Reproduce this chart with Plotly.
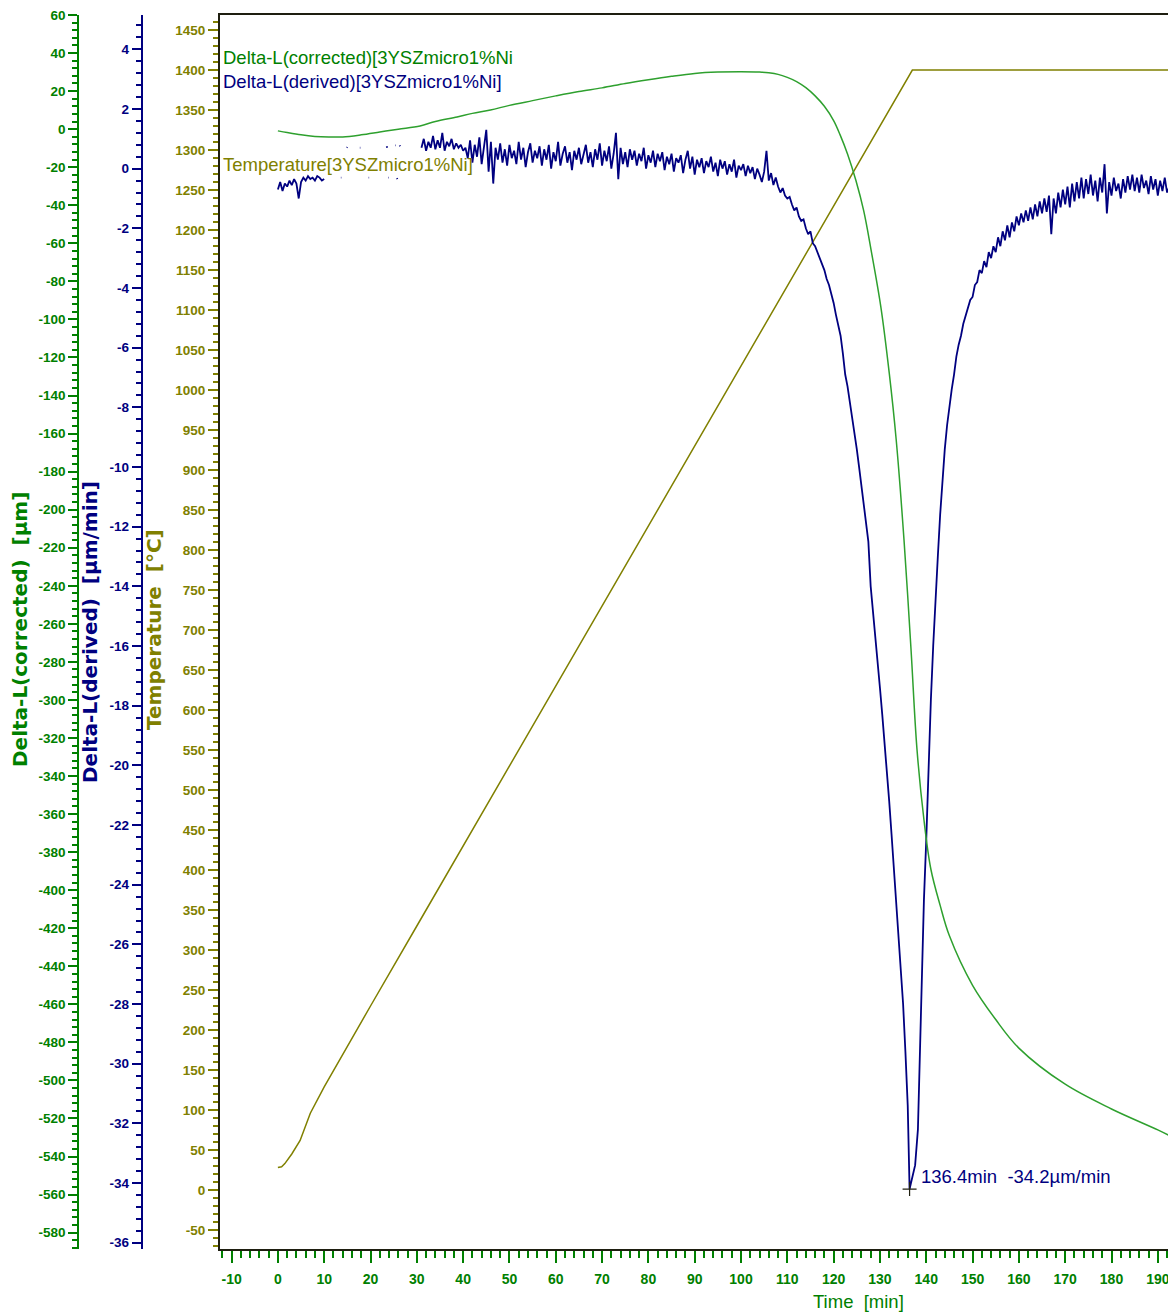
import plotly.graph_objects as go

W, H = 1168, 1316

# ---------------- data ----------------
temp_time = [0, 0.8, 1.5, 3, 4.8, 6, 7, 10, 15, 20, 30, 40, 50, 60, 70, 80, 90, 100, 110, 120, 130, 137,
             140, 150, 160, 170, 180, 190, 192.5]
temp_value = [28, 29, 33, 45, 62, 80, 96, 129, 180, 230, 330, 430, 530, 630, 730, 830, 930, 1030, 1130, 1230,
              1330, 1400, 1400, 1400, 1400, 1400, 1400, 1400, 1400]

corr_time = [0, 2, 5, 8, 11, 14, 18, 22, 26, 30.7, 34, 38.7, 42, 45.9, 50, 55, 60, 65, 70, 75, 80, 85, 90, 95,
             100, 104, 106, 108, 110, 112, 114, 116, 118, 120, 121.4, 123, 124.8, 126.5, 128.1, 130.2, 132,
             133.5, 135.2, 136.7, 138, 139.5, 141, 143, 145, 150, 155, 160, 170, 180, 190, 192.5]
corr_value = [-0.9, -1.8, -3.0, -3.8, -4.1, -4.1, -3.0, -1.5, 0.0, 1.7, 4.0, 6.4, 8.3, 10.1, 12.5, 15.0, 17.5,
              19.8, 21.7, 24.0, 26.0, 27.8, 29.3, 30.0, 30.2, 30.0, 29.6, 28.8, 27.2, 25.0, 21.8, 17.5, 12.0,
              4.5, -3.0, -13.0, -26.9, -43.0, -63.7, -93.5, -128.0, -163.0, -216.0, -273.0, -326.0, -363.0,
              -389.0, -408.0, -424.0, -450.0, -468.0, -483.0, -502.0, -515.0, -526.0, -529.0]

deriv_time = [
    0, 0.5, 1, 1.5, 2, 2.5, 3, 3.5, 4, 4.5, 5, 5.5, 6, 6.5, 7, 7.5, 8, 8.5, 9, 9.5, 10, None,
    13.6, 13.7, None, 14.9, 15.0, None, 17.7, 17.8, None, 19.6, 19.7, None, 23.5, 23.6, None, 23.8, 23.9, None,
    25.3, 25.4, None, 25.7, 25.8, None, 26.3, 26.4, None,
    31, 31.5, 32, 32.5, 33, 33.5, 34, 34.5, 35, 35.5, 36, 36.5, 37, 37.5, 38, 38.5, 39, 39.5, 40, 40.5,
    41, 41.5, 42, 42.5, 43, 43.5, 44, 44.5, 45, 45.5, 46, 46.5, 47, 47.5, 48, 48.5, 49, 49.5,
    50, 50.5, 51, 51.5, 52, 52.5, 53, 53.5, 54, 54.5, 55, 55.5, 56, 56.5, 57, 57.5, 58, 58.5, 59, 59.5,
    60, 60.5, 61, 61.5, 62, 62.5, 63, 63.5, 64, 64.5, 65, 65.5, 66, 66.5, 67, 67.5, 68, 68.5, 69, 69.5,
    70, 70.5, 71, 71.5, 72, 72.5, 73, 73.5, 74, 74.5, 75, 75.5, 76, 76.5, 77, 77.5, 78, 78.5, 79, 79.5,
    80, 80.5, 81, 81.5, 82, 82.5, 83, 83.5, 84, 84.5, 85, 85.5, 86, 86.5, 87, 87.5, 88, 88.5, 89, 89.5,
    90, 90.5, 91, 91.5, 92, 92.5, 93, 93.5, 94, 94.5, 95, 95.5, 96, 96.5, 97, 97.5, 98, 98.5, 99, 99.5,
    100, 100.5, 101, 101.5, 102, 102.5, 103, 103.5, 104, 104.5, 105, 105.5, 106, 106.5, 107, 107.5, 108,
    108.5, 109, 109.5, 110, 110.5, 111, 111.5, 112, 112.5, 113, 113.5, 114, 114.5, 115, 115.5, 116, 116.5,
    117, 117.5, 118, 118.5, 119, 119.5, 120, 120.5, 121, 121.5, 122, 122.5, 123, 123.5, 124, 124.5, 125,
    125.5, 126, 126.5, 127, 127.5, 128, 128.5, 129, 129.5, 130, 130.5, 131, 131.5, 132, 132.5, 133, 133.5,
    134, 134.5, 135, 135.5, 136, 136.4, 137, 137.6, 138.2, 138.6, 139, 139.5, 140, 140.5, 141, 141.5, 142,
    142.5, 143, 143.5, 144, 144.5, 145, 145.5, 146, 146.5, 147, 147.5, 148, 148.5, 149, 149.5, 150, 150.5,
    151, 151.5, 152, 152.5, 153, 153.5, 154, 154.5, 155, 155.5, 156, 156.5, 157, 157.5, 158, 158.5, 159,
    159.5, 160, 160.5, 161, 161.5, 162, 162.5, 163, 163.5, 164, 164.5, 165, 165.5, 166, 166.5, 167, 167.5,
    168, 168.5, 169, 169.5, 170, 170.5, 171, 171.5, 172, 172.5, 173, 173.5, 174, 174.5, 175, 175.5, 176,
    176.5, 177, 177.5, 178, 178.5, 179, 179.5, 180, 180.5, 181, 181.5, 182, 182.5, 183, 183.5, 184, 184.5,
    185, 185.5, 186, 186.5, 187, 187.5, 188, 188.5, 189, 189.5, 190, 190.5, 191, 191.5, 192, 192.5]
deriv_value = [
    -0.7, -0.45, -0.75, -0.5, -0.6, -0.4, -0.55, -0.35, -0.5, -1.0, -0.45, -0.3, -0.4, -0.25, -0.35, -0.3,
    -0.4, -0.25, -0.3, -0.4, -0.35, None,
    -0.3, -0.3, None, 0.7, 0.72, None, 0.7, 0.7, None, -0.3, -0.3, None, 0.75, 0.7, None, -0.3, -0.3, None,
    0.78, 0.78, None, -0.32, -0.35, None, 0.78, 0.75, None,
    0.7, 1.0, 0.6, 0.9, 0.7, 1.1, 0.65, 0.95, 0.7, 1.2, 0.6, 0.9, 0.75, 1.0, 0.65, 0.85, 0.7, 0.8, 0.6, 0.7,
    0.35, 0.95, 0.2, 0.8, 0.4, 1.05, 0.15, 0.75, 1.3, -0.1, 0.9, -0.5, 0.7, 0.3, 0.85, 0.2, 0.65, 0.1,
    0.8, 0.35, 0.6, 0.15, 0.9, 0.3, 0.7, 0.05, 0.55, 0.85, 0.2, 0.6, 0.35, 0.75, 0.1, 0.65, 0.3, 0.8, 0.0, 0.55,
    0.25, 0.9, 0.1, 0.5, 0.75, 0.2, 0.55, -0.05, 0.6, 0.3, 0.7, 0.15, 0.45, 0.8, 0.2, 0.55, 0.05, 0.65, 0.3, 0.85,
    0.1, 0.6, 0.25, 0.75, 0.0, 0.5, 1.2, -0.35, 0.7, 0.15, 0.55, 0.05, 0.65, 0.3, 0.6, 0.1, 0.5, 0.25, 0.7, 0.0,
    0.45, 0.2, 0.6, 0.05, 0.5, 0.25, 0.55, -0.05, 0.4, 0.15, 0.5, -0.1, 0.35, 0.2, 0.45, -0.15, 0.3, 0.6, 0.0, 0.4,
    -0.2, 0.3, 0.05, 0.35, -0.15, 0.25, 0.05, 0.4, -0.1, 0.2, -0.25, 0.3, 0.0, 0.25, -0.2, 0.15, -0.1, 0.3, -0.3, 0.1,
    -0.05, 0.15, -0.25, 0.1, -0.15, 0.05, -0.35, 0.0, -0.2, -0.45, -0.1, 0.6, -0.4, -0.15, -0.55, -0.3, -0.6,
    -0.8, -0.65, -0.9, -1.0, -0.95, -1.2, -1.4, -1.3, -1.6, -1.75, -1.7, -2.0, -2.2, -2.1, -2.5, -2.6, -2.8,
    -3.0, -3.2, -3.4, -3.7, -3.9, -4.2, -4.5, -4.9, -5.2, -5.6, -6.2, -6.9, -7.3, -7.8, -8.4, -8.9, -9.4,
    -10.0, -10.6, -11.2, -11.8, -12.5, -14.0, -14.8, -15.6, -16.5, -17.4, -18.3, -19.2, -20.2, -21.2, -22.3, -23.4, -24.5,
    -25.6, -26.8, -28.0, -29.6, -31.4, -34.2, -33.8, -33.4, -32.2, -29.5, -27.0, -24.5, -22.5, -20.0, -17.8, -16.0, -14.3,
    -13.0, -11.6, -10.4, -9.4, -8.6, -7.9, -7.4, -6.9, -6.3, -5.9, -5.6, -5.2, -4.9, -4.7, -4.4, -4.3, -3.9,
    -3.8, -3.4, -3.5, -3.1, -3.3, -2.8, -3.0, -2.6, -2.8, -2.3, -2.6, -2.1, -2.4, -1.9, -2.3, -1.8, -2.1,
    -1.6, -1.9, -1.5, -1.8, -1.4, -1.75, -1.3, -1.7, -1.2, -1.6, -1.1, -1.5, -1.0, -1.45, -0.9, -2.2, -1.0,
    -1.5, -0.8, -1.3, -0.7, -1.2, -0.6, -1.3, -0.5, -1.1, -0.45, -1.0, -0.3, -1.0, -0.35, -0.85, -0.2, -0.9,
    -0.4, -1.1, -0.3, -0.8, 0.15, -1.5, -0.45, -0.9, -0.3, -0.75, -0.5, -1.0, -0.35, -0.8, -0.25, -0.7, -0.2,
    -0.75, -0.3, -0.8, -0.2, -0.65, -0.4, -0.85, -0.25, -0.7, -0.35, -0.9, -0.4, -0.75, -0.3, -0.8, -0.6]

peak_time = [136.4]
peak_value = [-34.2]

x_ticks = [-10, 0, 10, 20, 30, 40, 50, 60, 70, 80, 90, 100, 110, 120, 130, 140, 150, 160, 170, 180, 190]
temp_ticks = [-50, 0, 50, 100, 150, 200, 250, 300, 350, 400, 450, 500, 550, 600, 650, 700, 750, 800, 850,
              900, 950, 1000, 1050, 1100, 1150, 1200, 1250, 1300, 1350, 1400, 1450]
deriv_ticks = [-36, -34, -32, -30, -28, -26, -24, -22, -20, -18, -16, -14, -12, -10, -8, -6, -4, -2, 0, 2, 4]
corr_ticks = [-580, -560, -540, -520, -500, -480, -460, -440, -420, -400, -380, -360, -340, -320, -300,
              -280, -260, -240, -220, -200, -180, -160, -140, -120, -100, -80, -60, -40, -20, 0, 20, 40, 60]

# ---------------- style ----------------
GREEN = "#008000"
GREEN_LINE = "#2ea02e"
BLUE = "#000080"
OLIVE = "#808000"
FRAME = "#1e1e10"
TICKFONT = "Liberation Sans, Arial, sans-serif"
TXTFONT = "Liberation Sans, Arial, sans-serif"
TITLEFONT = "DejaVu Sans, Verdana, sans-serif"

PLOT_L, PLOT_T, PLOT_B = 220, 15, 1249

fig = go.Figure()
fig.add_trace(go.Scatter(x=temp_time, y=temp_value, mode="lines", yaxis="y",
                         line=dict(color=OLIVE, width=1.5), showlegend=False))
fig.add_trace(go.Scatter(x=corr_time, y=corr_value, mode="lines", yaxis="y3", line_shape="spline",
                         line=dict(color=GREEN_LINE, width=1.5), showlegend=False))
fig.add_trace(go.Scatter(x=deriv_time, y=deriv_value, mode="lines", yaxis="y2", connectgaps=False,
                         line=dict(color=BLUE, width=1.8), showlegend=False))
fig.add_trace(go.Scatter(x=peak_time, y=peak_value, mode="markers", yaxis="y2",
                         marker=dict(symbol="cross-thin-open", size=10, color="#202010",
                                     line=dict(color="#202010", width=1.2)),
                         showlegend=False))


def lab(v):
    return str(v)


fig.update_layout(
    width=W, height=H,
    margin=dict(l=0, r=0, t=PLOT_T, b=H - PLOT_B, pad=0),
    paper_bgcolor="white", plot_bgcolor="white",
    xaxis=dict(domain=[PLOT_L / W, 1], range=[-12.5, 192.2], autorange=False,
               tickmode="array", tickvals=x_ticks, ticktext=[lab(v) for v in x_ticks],
               ticks="outside", ticklen=12, tickwidth=2, tickcolor=GREEN,
               tickfont=dict(family=TICKFONT, size=14, color=GREEN, weight="bold"),
               ticklabelstandoff=4, ticklabeloverflow="allow",
               minor=dict(dtick=2, tick0=0, ticks="outside", ticklen=7, tickwidth=2, tickcolor=GREEN),
               showline=True, linecolor=FRAME, linewidth=2, mirror=True,
               showgrid=False, zeroline=False, automargin=False),
    yaxis=dict(range=[-73.75, 1468.75], autorange=False,
               tickmode="array", tickvals=temp_ticks, ticktext=[lab(v) for v in temp_ticks],
               ticks="outside", ticklen=10, tickwidth=2, tickcolor=OLIVE,
               tickfont=dict(family=TICKFONT, size=13.5, color=OLIVE, weight="bold"),
               minor=dict(dtick=10, tick0=0, ticks="outside", ticklen=5, tickwidth=2, tickcolor=OLIVE),
               showline=True, linecolor=FRAME, linewidth=2,
               showgrid=False, zeroline=False, automargin=False),
    yaxis2=dict(overlaying="y", anchor="free", position=141.7 / W, side="left",
                range=[-36.21, 5.15], autorange=False,
                tickmode="array", tickvals=deriv_ticks, ticktext=[lab(v) for v in deriv_ticks],
                ticks="outside", ticklen=9, tickwidth=2, tickcolor=BLUE,
                tickfont=dict(family=TICKFONT, size=13.5, color=BLUE, weight="bold"),
                minor=dict(dtick=0.4, tick0=0, ticks="outside", ticklen=5, tickwidth=2, tickcolor=BLUE),
                showline=True, linecolor=BLUE, linewidth=2,
                showgrid=False, zeroline=False, automargin=False),
    yaxis3=dict(overlaying="y", anchor="free", position=78.3 / W, side="left",
                range=[-588.6, 60], autorange=False,
                tickmode="array", tickvals=corr_ticks, ticktext=[lab(v) for v in corr_ticks],
                ticks="outside", ticklen=9, tickwidth=2, tickcolor=GREEN,
                tickfont=dict(family=TICKFONT, size=13.5, color=GREEN, weight="bold"),
                minor=dict(dtick=4, tick0=0, ticks="outside", ticklen=5, tickwidth=2, tickcolor=GREEN),
                showline=True, linecolor=GREEN, linewidth=2,
                showgrid=False, zeroline=False, automargin=False),
)


def py(p):
    return (PLOT_B - p) / (PLOT_B - PLOT_T)


annotations = [
    # axis titles
    dict(text="Delta-L(corrected)  [µm]", x=20 / W, y=py(630), textangle=-90,
         font=dict(family=TITLEFONT, size=20, color=GREEN, weight="bold")),
    dict(text="Delta-L(derived)  [µm/min]", x=90 / W, y=py(632), textangle=-90,
         font=dict(family=TITLEFONT, size=20, color=BLUE, weight="bold")),
    dict(text="Temperature  [°C]", x=154 / W, y=py(630), textangle=-90,
         font=dict(family=TITLEFONT, size=20, color=OLIVE, weight="bold")),
    dict(text="Time  [min]", x=858 / W, y=py(1301),
         font=dict(family=TXTFONT, size=18.5, color=GREEN)),
    # in-plot legend labels
    dict(text="Delta-L(corrected)[3YSZmicro1%Ni", x=221 / W, y=py(58), xanchor="left",
         font=dict(family=TXTFONT, size=18.5, color=GREEN)),
    dict(text="Delta-L(derived)[3YSZmicro1%Ni]", x=221 / W, y=py(82), xanchor="left",
         font=dict(family=TXTFONT, size=18.5, color=BLUE)),
    dict(text="Temperature[3YSZmicro1%Ni]", x=221 / W, y=py(164), xanchor="left",
         font=dict(family=TXTFONT, size=18.5, color=OLIVE)),
]
for a in annotations:
    a.setdefault("xanchor", "center")
    a.update(xref="paper", yref="paper", yanchor="middle", showarrow=False)

annotations.append(dict(text="136.4min  -34.2µm/min", x=peak_time[0], y=peak_value[0], xref="x", yref="y2",
                        xanchor="left", yanchor="middle", xshift=9, yshift=13, showarrow=False,
                        font=dict(family=TXTFONT, size=18.5, color=BLUE)))

fig.update_layout(annotations=annotations)

fig.write_html("out.html", config={"displayModeBar": False},
               post_script="document.body.style.margin='0';document.body.style.padding='0';")
